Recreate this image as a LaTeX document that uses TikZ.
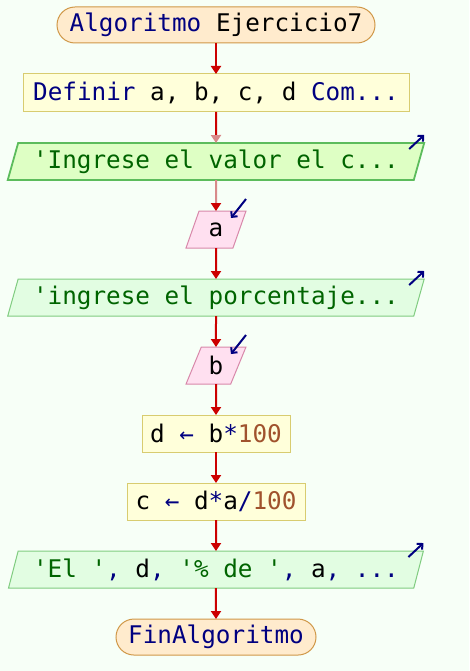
\documentclass[tikz,border=0pt]{standalone}
\usepackage{fontspec}
\setmonofont{DejaVu Sans Mono}
\usetikzlibrary{positioning,shapes.geometric,arrows.meta}
\definecolor{bgcol}{HTML}{F7FFF7}
\definecolor{kwcol}{HTML}{000080}
\definecolor{strcol}{HTML}{006400}
\definecolor{numcol}{HTML}{A0522D}
\definecolor{flowcol}{HTML}{CC0000}
\definecolor{fadecol}{HTML}{D88A8A}
\definecolor{termfill}{HTML}{FFEBCD}
\definecolor{termdraw}{HTML}{D09848}
\definecolor{procfill}{HTML}{FFFFDA}
\definecolor{procdraw}{HTML}{D8CC70}
\definecolor{outfill}{HTML}{E2FDE2}
\definecolor{outdraw}{HTML}{80CC80}
\definecolor{selfill}{HTML}{DEFFC4}
\definecolor{seldraw}{HTML}{5CBC5C}
\definecolor{infill}{HTML}{FFE0F0}
\definecolor{indraw}{HTML}{D888AA}
\newcommand{\kw}[1]{\textcolor{kwcol}{#1}}
\newcommand{\st}[1]{\textcolor{strcol}{#1}}
\newcommand{\nm}[1]{\textcolor{numcol}{#1}}
\tikzset{
  base/.style={inner sep=0pt, outer sep=0pt, minimum height=37pt, font=\ttfamily\fontsize{24.3}{28}\selectfont, line width=1pt},
  terminal/.style={base, rounded corners=18pt, draw=termdraw, fill=termfill},
  procbox/.style={base, draw=procdraw, fill=procfill},
  outbox/.style={base, trapezium, trapezium left angle=68, trapezium right angle=112, trapezium stretches=true, draw=outdraw, fill=outfill, minimum width=417pt},
  inbox/.style={base, trapezium, trapezium left angle=68, trapezium right angle=112, trapezium stretches=true, draw=indraw, fill=infill, minimum width=60pt},
  flow/.style={flowcol, line width=2pt, -{Triangle[width=10pt,length=8pt]}},
  icon/.style={kwcol, line width=2pt, -{Straight Barb[length=4pt,width=8pt]}}
}
\begin{document}
\begin{tikzpicture}[node distance=31pt]
  \fill[bgcol] (0,0) rectangle (469pt,-671pt);
  \useasboundingbox (0,0) rectangle (469pt,-671pt);
  \node[terminal, minimum width=318pt, minimum height=36pt] (start) at (216pt,-25pt) {\kw{Algoritmo} Ejercicio7};
  \node[procbox, minimum width=386pt, minimum height=38pt, below=of start] (def) {\kw{Definir} a, b, c, d \kw{Com...}};
  \node[outbox, line width=1.8pt, draw=seldraw, fill=selfill, below=of def] (out1) {\st{'Ingrese el valor el c...}};
  \node[inbox, below=of out1] (ina) {a};
  \node[outbox, below=of ina] (out2) {\st{'ingrese el porcentaje...}};
  \node[inbox, below=of out2] (inb) {b};
  \node[procbox, minimum width=148pt, below=of inb] (asd) {d \kw{←} b\kw{*}\nm{100}};
  \node[procbox, minimum width=178pt, below=of asd] (asc) {c \kw{←} d\kw{*}a\kw{/}\nm{100}};
  \node[outbox, below=of asc] (out3) {\st{'El '}\kw{,} d\kw{,} \st{'\% de '}\kw{,} a\kw{,} \kw{...}};
  \node[terminal, minimum width=200pt, minimum height=36pt, below=of out3] (stop) {\kw{FinAlgoritmo}};
  \draw[flow] (start) -- (def);
  \draw[flowcol, line width=2pt, -{Triangle[width=10pt,length=8pt,color=fadecol]}] (def) -- (out1);
  \draw[fadecol, line width=2pt, -{Triangle[width=10pt,length=8pt,color=flowcol]}] (out1) -- (ina);
  \draw[flow] (ina) -- (out2);
  \draw[flow] (out2) -- (inb);
  \draw[flow] (inb) -- (asd);
  \draw[flow] (asd) -- (asc);
  \draw[flow] (asc) -- (out3);
  \draw[flow] (out3) -- (stop);
  \foreach \o in {out1,out2,out3}
    \draw[icon] ([shift={(-15pt,-6pt)}]\o.top right corner) -- ([shift={(0pt,8pt)}]\o.top right corner);
  \foreach \i in {ina,inb}
    \draw[icon] ([shift={(0pt,12pt)}]\i.top right corner) -- ([shift={(-15pt,-7pt)}]\i.top right corner);
\end{tikzpicture}
\end{document}
